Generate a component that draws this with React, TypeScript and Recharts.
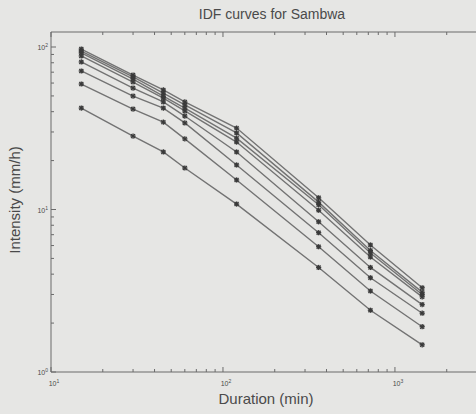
import { Line, LineChart, XAxis, YAxis } from "recharts";

// durations (min) and rainfall intensity (mm/h), one array per curve, top to bottom
const durations = [15, 30, 45, 60, 120, 360, 720, 1440];

const curve1 = [97.2, 67.2, 54.4, 45.9, 31.7, 11.8, 6.05, 3.3];
const curve2 = [94.5, 65.4, 52.1, 44.0, 29.6, 11.1, 5.6, 3.1];
const curve3 = [91.9, 63.5, 49.9, 42.1, 27.5, 10.7, 5.4, 3.0];
const curve4 = [88.1, 60.9, 48.5, 40.4, 26.0, 9.9, 5.1, 2.9];
const curve5 = [80.9, 55.9, 45.9, 37.6, 22.6, 8.4, 4.4, 2.6];
const curve6 = [71.2, 49.9, 42.1, 34.1, 18.8, 7.2, 3.8, 2.3];
const curve7 = [59.2, 41.5, 34.5, 27.2, 15.2, 5.9, 3.15, 1.9];
const curve8 = [42.1, 28.3, 22.6, 18.0, 10.8, 4.4, 2.4, 1.47];

const curves = [curve1, curve2, curve3, curve4, curve5, curve6, curve7, curve8];

const xTicks = [10, 20, 30, 40, 50, 60, 70, 80, 90, 100, 200, 300, 400, 500, 600, 700, 800, 900, 1000, 2000];
const yTicks = [1, 2, 3, 4, 5, 6, 7, 8, 9, 10, 20, 30, 40, 50, 60, 70, 80, 90, 100];
const xMajor = [10, 100, 1000];
const yMajor = [1, 10, 100];

const data = durations.map((d, i) => {
  const row: Record<string, number> = { duration: d };
  curves.forEach((c, k) => (row["c" + k] = c[i]));
  return row;
});

const AXIS = "#6b6b6b";
const TEXT = "#4a4a4a";

function Pow({ x, y, exp, anchor }: { x: number; y: number; exp: number; anchor: "middle" | "end" }) {
  return (
    <text x={x} y={y} textAnchor={anchor} fill={TEXT} fontSize={7} fontFamily="Liberation Sans, Arial, sans-serif">
      10
      <tspan dy={-3} fontSize={5}>
        {exp}
      </tspan>
    </text>
  );
}

function BottomTick(props: any) {
  const { x, y, payload } = props;
  const major = xMajor.includes(payload.value);
  return (
    <g>
      <line x1={x} x2={x} y1={y} y2={y - (major ? 5 : 3)} stroke={AXIS} />
      {major && <Pow x={x + 3} y={y + 14} exp={Math.round(Math.log10(payload.value))} anchor="middle" />}
    </g>
  );
}

function TopTick(props: any) {
  const { x, y, payload } = props;
  const major = xMajor.includes(payload.value);
  return <line x1={x} x2={x} y1={y} y2={y + (major ? 5 : 3)} stroke={AXIS} />;
}

function LeftTick(props: any) {
  const { x, y, payload } = props;
  const major = yMajor.includes(payload.value);
  return (
    <g>
      <line x1={x} x2={x + (major ? 5 : 3)} y1={y} y2={y} stroke={AXIS} />
      {major && <Pow x={x - 3} y={y + 3} exp={Math.round(Math.log10(payload.value))} anchor="end" />}
    </g>
  );
}

function Star(props: any) {
  const { cx, cy, index } = props;
  if (cx == null || cy == null) return <g key={index} />;
  const s = 2.6;
  return (
    <g key={index} stroke="#3a3a3a" strokeWidth={1.3}>
      <line x1={cx - s} x2={cx + s} y1={cy} y2={cy} />
      <line x1={cx} x2={cx} y1={cy - s} y2={cy + s} />
      <line x1={cx - 2} x2={cx + 2} y1={cy - 2} y2={cy + 2} />
      <line x1={cx - 2} x2={cx + 2} y1={cy + 2} y2={cy - 2} />
    </g>
  );
}

const font = "Liberation Sans, Arial, sans-serif";

export default function App() {
  return (
    <div style={{ position: "absolute", left: 0, top: 0, width: 476, height: 414, background: "#e6e6e4", overflow: "hidden" }}>
      <div style={{ position: "absolute", left: 0, width: 544, top: 6, textAlign: "center", fontFamily: font, fontSize: 14, color: TEXT }}>
        IDF curves for Sambwa
      </div>
      <div style={{ position: "absolute", left: 0, width: 532, top: 390, textAlign: "center", fontFamily: font, fontSize: 15, color: TEXT }}>
        Duration (min)
      </div>
      <div
        style={{
          position: "absolute",
          left: 14,
          top: 200,
          transform: "translate(-50%, -50%) rotate(-90deg)",
          whiteSpace: "nowrap",
          fontFamily: font,
          fontSize: 15,
          color: TEXT,
        }}
      >
        Intensity (mm/h)
      </div>
      <LineChart
        width={476}
        height={414}
        data={data}
        margin={{ top: 0, right: 0, bottom: 0, left: 0 }}
        style={{ position: "absolute", left: 0, top: 0 }}
      >
        <XAxis
          dataKey="duration"
          type="number"
          scale="log"
          domain={[10, 2960]}
          allowDataOverflow
          ticks={xTicks}
          interval={0}
          height={42}
          tickSize={0}
          tickMargin={0}
          tickLine={false}
          stroke={AXIS}
          tick={<BottomTick />}
        />
        <XAxis
          xAxisId="top"
          orientation="top"
          dataKey="duration"
          type="number"
          scale="log"
          domain={[10, 2960]}
          allowDataOverflow
          ticks={xTicks}
          interval={0}
          height={32}
          tickSize={0}
          tickMargin={0}
          tickLine={false}
          stroke={AXIS}
          tick={<TopTick />}
        />
        <YAxis
          type="number"
          scale="log"
          domain={[1, 123.7]}
          allowDataOverflow
          ticks={yTicks}
          interval={0}
          width={51}
          tickSize={0}
          tickMargin={0}
          tickLine={false}
          stroke={AXIS}
          tick={<LeftTick />}
        />
        {curves.map((_, k) => (
          <Line
            key={k}
            dataKey={"c" + k}
            type="linear"
            stroke="#737373"
            strokeWidth={1.4}
            dot={Star}
            activeDot={false}
            isAnimationActive={false}
          />
        ))}
      </LineChart>
    </div>
  );
}
